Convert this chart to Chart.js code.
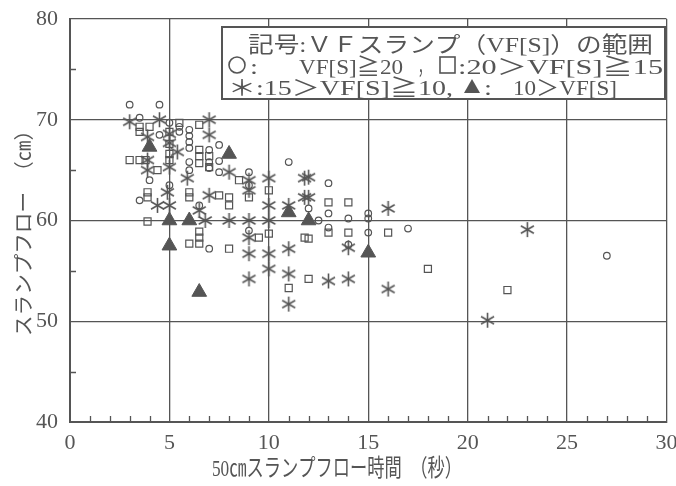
<!DOCTYPE html>
<html><head><meta charset="utf-8">
<script src="https://cdn.jsdelivr.net/npm/chart.js@4/dist/chart.umd.min.js"></script>
<style>html,body{margin:0;padding:0;background:#fff}#wrap{width:676px;height:486px}</style>
</head><body><div id="wrap"><canvas id="c" width="676" height="486"></canvas></div>
<script>
// Axis ticks
const xTicks = [0, 5, 10, 15, 20, 25, 30];
const yTicks = [40, 50, 60, 70, 80];

// Slump-flow test results: [50cm flow time (s), slump flow (cm)], grouped by VF slump
const circlePts = [
  [3,71.5],[4.5,71.5],[3.5,70.2],[5,69.7],[4.5,68.5],[4,64],[3.5,62],
  [6,69],[6,68.4],[6,67.8],[6,67.2],[6,65.8],[6,65],[5.5,69.3],[5.5,68.8],
  [7,67],[7,65.8],[7,65.2],[7.5,67.5],[7.5,65.9],[7.5,64.8],[7,57.2],[9,64.8],[9,63.5],
  [11,65.8],[13,63.7],[12,61.2],[13,60.7],[14,60.2],[15,60.7],[15,60.2],[12.5,60],
  [13,59.3],[15,58.8],[17,59.2],[14,57.6],[27,56.5],[9,59],[6.5,61.5],[5,63.5]
];
const squarePts = [
  [3.5,69.3],[3.5,68.8],[4,69.3],[5.5,69.7],[6.5,69.5],[5,68.8],[5,67.6],[5,66.6],[5,66],
  [6.5,67],[6.5,66.4],[6.5,65.7],[7,66.4],[7,65.3],
  [3,66],[3.5,66],[3.8,66],[4.4,65],[3.9,62.8],[3.9,62.3],[3.9,59.9],[6,62.8],[6,62.3],
  [6.5,58.9],[6.5,58.3],[6,57.7],[6.5,57.7],[8,57.2],[8,62.3],[8,61.5],[9,62.3],[8.5,64],
  [10,63],[10,58.7],[9.5,58.3],[11.8,58.3],[12,54.2],[11,53.3],[13,61.8],[14,61.8],
  [13,58.8],[14,58.8],[16,58.8],[12,58.2],[18,55.2],[22,53.1],[7.5,62.5]
];
const starPts = [
  [3,69.8],[4.5,70],[7,70],[7,68.5],[3.9,68.3],[5,68.6],[5,67.7],[5.4,66.8],[3.9,66],[3.9,65],
  [5,65.3],[5.9,64.2],[4.9,62.8],[4.4,61.5],[5,61.5],[6.8,60],[7,62.5],[6.5,61],
  [8,64.8],[9,64],[9,63],[10,64.2],[11.8,64.2],[10,61.5],[11,61.5],[11.8,62.3],[8,60],[9,60],[10,60],
  [9,58.3],[9,56.7],[10,56.7],[10,55.2],[11,57.2],[11,54.7],[11,51.7],[9,54.2],[12,64.3],
  [12,62.3],[16,61.2],[13,54],[14,54.2],[14,57.3],[16,53.2],[23,59.1],[21,50.1]
];
const trianglePts = [
  [4,67.3],[8,66.6],[5,60],[6,60],[5,57.5],[6.5,52.9],[11,60.8],[12,60],[15,56.8]
];

const INK = '#555';
const toXY = a => a.map(p => ({x: p[0], y: p[1]}));

// six-armed asterisk marker
function asterisk(r, lw) {
  const s = Math.ceil(r * 2 + lw * 2);
  const cv = document.createElement('canvas');
  cv.width = s; cv.height = s;
  const g = cv.getContext('2d');
  g.strokeStyle = INK; g.lineWidth = lw; g.lineCap = 'butt';
  const c = s / 2;
  for (let k = 0; k < 3; k++) {
    const a = Math.PI / 2 + k * Math.PI / 3;
    g.beginPath();
    g.moveTo(c + Math.cos(a) * r, c - Math.sin(a) * r);
    g.lineTo(c - Math.cos(a) * r, c + Math.sin(a) * r);
    g.stroke();
  }
  return cv;
}
const starImg = asterisk(7.5, 1.6);

const serif = '"Liberation Serif", "Noto Sans CJK JP", serif';

// draw text stretched/condensed to a given width
function fitText(ctx, txt, x, y, w, font) {
  ctx.save();
  ctx.font = font;
  const nat = ctx.measureText(txt).width;
  ctx.translate(x, y);
  ctx.scale(w / nat, 1);
  ctx.fillText(txt, 0, 0);
  ctx.restore();
}

const decor = {
  id: 'decor',
  afterDatasetsDraw(chart) {
    const ctx = chart.ctx;
    const xs = chart.scales.x, ys = chart.scales.y;
    const a = chart.chartArea;
    ctx.save();
    ctx.strokeStyle = INK;
    ctx.lineWidth = 1.3;
    // minor ticks on x (every second) and y (every 5 cm)
    ctx.beginPath();
    for (let v = 1; v < 30; v++) {
      if (v % 5 === 0) continue;
      const px = Math.round(xs.getPixelForValue(v)) + 0.5;
      ctx.moveTo(px, a.bottom); ctx.lineTo(px, a.bottom - 6);
    }
    for (let v = 45; v < 80; v += 10) {
      const py = Math.round(ys.getPixelForValue(v)) + 0.5;
      ctx.moveTo(a.left, py); ctx.lineTo(a.left + 6, py);
    }
    ctx.stroke();

    // symbol key box
    const bx = 222, by = 27, bw = 443, bh = 72;
    ctx.fillStyle = '#fff';
    ctx.fillRect(bx, by, bw, bh);
    ctx.lineWidth = 2;
    ctx.strokeRect(bx, by, bw, bh);
    ctx.fillStyle = INK;
    ctx.textBaseline = 'alphabetic';
    const f = '22px ' + serif;
    fitText(ctx, '記号:ＶＦスランプ（VF[S]）の範囲', 248, 52, 405, f);

    // key symbols
    ctx.lineWidth = 1.6;
    ctx.beginPath(); ctx.arc(237, 65, 8, 0, Math.PI * 2); ctx.stroke();
    ctx.strokeRect(440, 57, 15, 16);
    ctx.beginPath(); ctx.moveTo(472, 79); ctx.lineTo(480, 93); ctx.lineTo(464, 93); ctx.closePath(); ctx.fill();

    fitText(ctx, ':', 250, 74, 8, f);
    fitText(ctx, 'VF[S]≧20', 299, 74, 104, f);
    fitText(ctx, '，', 418, 74, 12, f);
    fitText(ctx, ':20＞VF[S]≧15', 458, 74, 205, f);
    fitText(ctx, '＊:15＞VF[S]≧10,', 228, 95, 225, f);
    fitText(ctx, ':', 484, 95, 8, f);
    fitText(ctx, '10＞VF[S]', 513, 95, 104, f);

    // axis titles
    fitText(ctx, '50㎝スランプフロー時間　（秒）', 212, 476, 250, '24px ' + serif);
    ctx.save();
    ctx.translate(31, 336);
    ctx.rotate(-Math.PI / 2);
    fitText(ctx, 'スランプフロー　（㎝）', 0, 0, 216, '20px ' + serif);
    ctx.restore();
    ctx.restore();
  }
};

new Chart(document.getElementById('c'), {
  type: 'scatter',
  data: {
    datasets: [
      { label: 'VF[S]≧20', data: toXY(circlePts), pointStyle: 'circle', radius: 3.3,
        borderColor: INK, backgroundColor: 'rgba(0,0,0,0)', borderWidth: 1.2 },
      { label: '20>VF[S]≧15', data: toXY(squarePts), pointStyle: 'rect', radius: 5,
        borderColor: INK, backgroundColor: 'rgba(0,0,0,0)', borderWidth: 1.2 },
      { label: '15>VF[S]≧10', data: toXY(starPts), pointStyle: starImg, radius: 8,
        borderColor: INK, backgroundColor: INK },
      { label: '10>VF[S]', data: toXY(trianglePts), pointStyle: 'triangle', radius: 8.5,
        borderColor: INK, backgroundColor: INK, borderWidth: 1 }
    ]
  },
  options: {
    responsive: false,
    animation: false,
    devicePixelRatio: 1,
    layout: { padding: { top: 19, right: 8, left: 0, bottom: 0 } },
    plugins: { legend: { display: false }, tooltip: { enabled: false } },
    scales: {
      x: {
        type: 'linear', min: 0, max: 30,
        afterBuildTicks: s => { s.ticks = xTicks.map(v => ({ value: v })); },
        afterFit: s => { s.height = 64; s.paddingLeft = 0; s.paddingRight = 0; },
        grid: { color: INK, lineWidth: 1.3, drawTicks: false },
        border: { color: INK, width: 2 },
        ticks: { color: INK, padding: 8, font: { family: serif, size: 22 } }
      },
      y: {
        type: 'linear', min: 40, max: 80,
        afterBuildTicks: s => { s.ticks = yTicks.map(v => ({ value: v })); },
        afterFit: s => { s.width = 70; s.paddingTop = 0; s.paddingBottom = 0; },
        grid: { color: INK, lineWidth: 1.3, drawTicks: false },
        border: { color: INK, width: 2 },
        ticks: { color: INK, padding: 12, font: { family: serif, size: 22 } }
      }
    }
  },
  plugins: [decor]
});
</script>
</body></html>
